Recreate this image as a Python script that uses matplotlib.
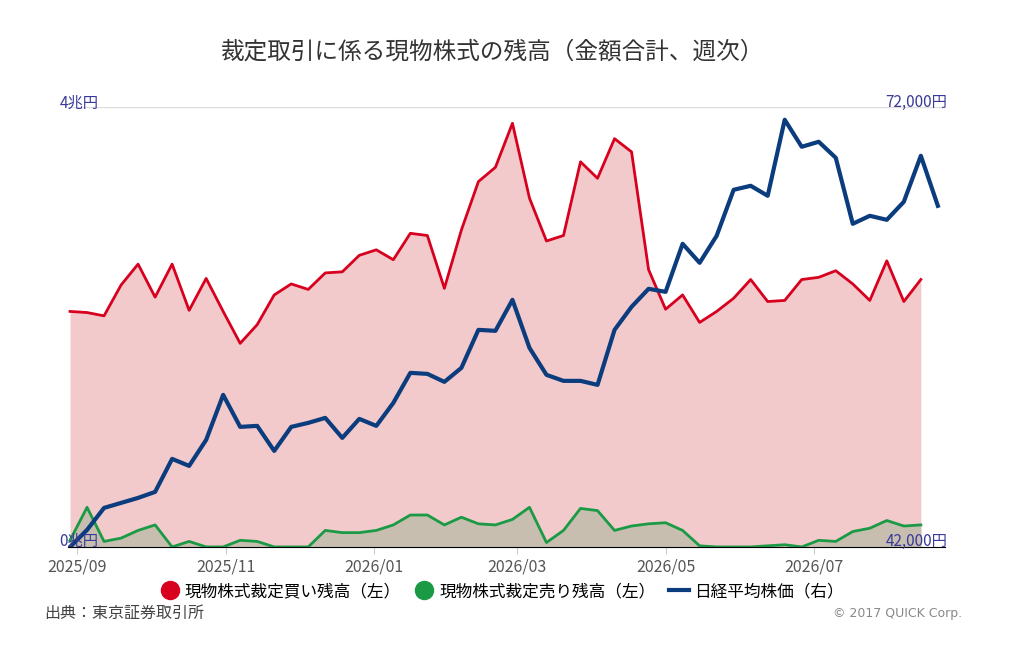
import numpy as np
import pandas as pd
import matplotlib.pyplot as plt
import matplotlib.dates as mdates
from matplotlib.lines import Line2D

plt.rcParams['font.family'] = ['Noto Sans CJK JP', 'DejaVu Sans']

# 兆円
buy = [2.14, 2.13, 2.10, 2.38, 2.57, 2.27, 2.57, 2.15, 2.44, 2.14, 1.85, 2.02, 2.29, 2.39, 2.34,
       2.49, 2.50, 2.65, 2.70, 2.61, 2.85, 2.83, 2.35, 2.88, 3.32, 3.45, 3.85, 3.17, 2.78, 2.83,
       3.50, 3.35, 3.71, 3.59, 2.52, 2.16, 2.29, 2.04, 2.14, 2.26, 2.43, 2.23, 2.24, 2.43, 2.45,
       2.51, 2.39, 2.24, 2.60, 2.23, 2.43]
sell = [0.06, 0.36, 0.05, 0.08, 0.15, 0.20, 0.00, 0.05, 0.00, 0.00, 0.06, 0.05, 0.00, 0.00, 0.00,
        0.15, 0.13, 0.13, 0.15, 0.20, 0.29, 0.29, 0.20, 0.27, 0.21, 0.20, 0.25, 0.36, 0.04, 0.15,
        0.35, 0.33, 0.15, 0.19, 0.21, 0.22, 0.15, 0.01, 0.00, 0.00, 0.00, 0.01, 0.02, 0.00, 0.06,
        0.05, 0.14, 0.17, 0.24, 0.19, 0.20]
nikkei = [42000, 43159, 44659, 45000, 45341, 45750, 48000, 47523, 49295, 52364, 50182, 50250,
          48545, 50182, 50455, 50795, 49432, 50727, 50250, 51818, 53864, 53795, 53250, 54205,
          56795, 56727, 58841, 55568, 53727, 53318, 53318, 53045, 56795, 58364, 59591, 59386,
          62659, 61364, 63205, 66341, 66614, 65932, 71114, 69273, 69614, 68523, 64023, 64568,
          64295, 65523, 68659, 65250]
dates = pd.date_range('2025-08-29', periods=len(nikkei), freq='7D')
d_lr = dates[:len(buy)]

fig = plt.figure(figsize=(10.24, 6.55), dpi=100)
ax = fig.add_axes([0.066, 0.165, 0.857, 0.672])
ax2 = ax.twinx()

ax.fill_between(d_lr, buy, color='#f3cacc', lw=0)
ax.fill_between(d_lr, sell, color='#c7beb0', lw=0)
ax.plot(d_lr, buy, color='#d7001e', lw=2)
ax.plot(d_lr, sell, color='#1b9a45', lw=2)
ax2.plot(dates, nikkei, color='#0b3c7d', lw=3)

ax.set_ylim(0, 4)
ax2.set_ylim(42000, 72000)
ax.set_xlim(dates[0] - pd.Timedelta(days=1), dates[-1] + pd.Timedelta(days=3))
ax.axhline(4, color='#dddddd', lw=1)
ax.set_yticks([])
ax2.set_yticks([])
for a in (ax, ax2):
    for s in ('top', 'left', 'right'):
        a.spines[s].set_visible(False)
ax.spines['bottom'].set_color('#cccccc')
ax.xaxis.set_major_locator(mdates.MonthLocator(bymonth=[1, 3, 5, 7, 9, 11]))
ax.xaxis.set_major_formatter(mdates.DateFormatter('%Y/%m'))
ax.tick_params(axis='x', colors='#cccccc', labelcolor='#555555', labelsize=11.5, length=5)

lc = '#3a3a9a'
fig.text(0.058, 0.843, '4兆円', color=lc, fontsize=11, ha='left', va='center')
fig.text(0.058, 0.173, '0兆円', color=lc, fontsize=11, ha='left', va='center')
fig.text(0.925, 0.843, '72,000円', color=lc, fontsize=11, ha='right', va='center')
fig.text(0.925, 0.173, '42,000円', color=lc, fontsize=11, ha='right', va='center')

fig.text(0.48, 0.921, '裁定取引に係る現物株式の残高（金額合計、週次）', fontsize=17,
         color='#333333', ha='center', va='center')

handles = [Line2D([], [], marker='o', ls='', color='#d7001e', markersize=13),
           Line2D([], [], marker='o', ls='', color='#1b9a45', markersize=13),
           Line2D([], [], color='#0b3c7d', lw=3)]
labels = ['現物株式裁定買い残高（左）', '現物株式裁定売り残高（左）', '日経平均株価（右）']
fig.legend(handles, labels, loc='center', bbox_to_anchor=(0.49, 0.097), ncol=3, frameon=False,
           fontsize=12, handlelength=1.2, handletextpad=0.3, columnspacing=0.8)

fig.text(0.043, 0.063, '出典：東京証券取引所', fontsize=11.5, color='#444444', va='center')
fig.text(0.94, 0.063, '© 2017 QUICK Corp.', fontsize=9, color='#888888', ha='right', va='center',
         family=['DejaVu Sans'])

fig.savefig('out.png', dpi=100)
